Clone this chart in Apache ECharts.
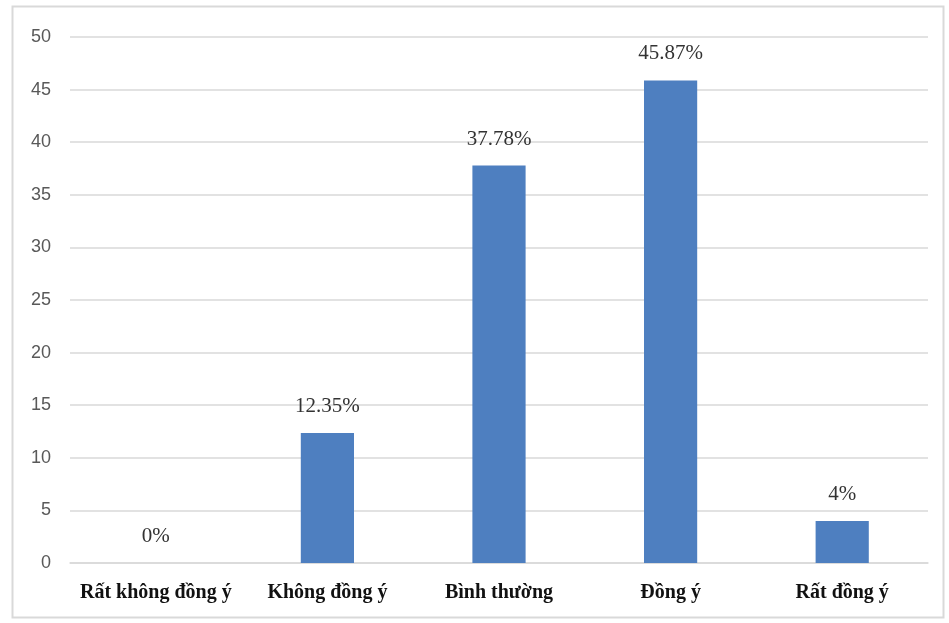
<!DOCTYPE html>
<html>
<head>
<meta charset="utf-8">
<script src="https://cdn.jsdelivr.net/npm/echarts@6/dist/echarts.min.js"></script>
<style>
  html, body { margin: 0; padding: 0; background: #fff; }
  #chart { width: 949px; height: 623px; }
</style>
</head>
<body>
<div id="chart"></div>
<script>
// Survey responses by level of agreement (%)
const categories = ['Rất không đồng ý', 'Không đồng ý', 'Bình thường', 'Đồng ý', 'Rất đồng ý'];
const values = [0, 12.35, 37.78, 45.87, 4];
const valueLabels = ['0%', '12.35%', '37.78%', '45.87%', '4%'];

const chart = echarts.init(document.getElementById('chart'), null, { renderer: 'canvas' });

chart.setOption({
  animation: false,
  backgroundColor: '#ffffff',
  graphic: [{
    type: 'rect',
    shape: { x: 12.5, y: 6.5, width: 931, height: 611 },
    style: { fill: 'none', stroke: '#d9d9d9', lineWidth: 2 },
    silent: true
  }],
  grid: { left: 70, right: 21, top: 37, bottom: 60, containLabel: false },
  xAxis: {
    type: 'category',
    data: categories,
    axisLine: { show: true, lineStyle: { color: '#d9d9d9', width: 1.5 } },
    axisTick: { show: false },
    axisLabel: {
      interval: 0,
      hideOverlap: false,
      margin: 20,
      color: '#111',
      fontFamily: '"Liberation Serif", "DejaVu Serif", serif',
      fontWeight: 'bold',
      fontSize: 20
    }
  },
  yAxis: {
    type: 'value',
    min: 0,
    max: 50,
    interval: 5,
    axisLine: { show: false },
    axisTick: { show: false },
    splitLine: { lineStyle: { color: '#d9d9d9', width: 1.5 } },
    axisLabel: {
      margin: 19,
      color: '#595959',
      fontFamily: '"Liberation Sans", Arial, sans-serif',
      fontSize: 18
    }
  },
  series: [{
    type: 'bar',
    data: values,
    barWidth: '31%',
    itemStyle: { color: '#4e7fc0' },
    label: {
      show: true,
      position: 'top',
      distance: 16,
      color: '#333',
      fontFamily: '"Liberation Serif", "DejaVu Serif", serif',
      fontSize: 21,
      formatter: p => valueLabels[p.dataIndex]
    }
  }]
});
</script>
</body>
</html>
